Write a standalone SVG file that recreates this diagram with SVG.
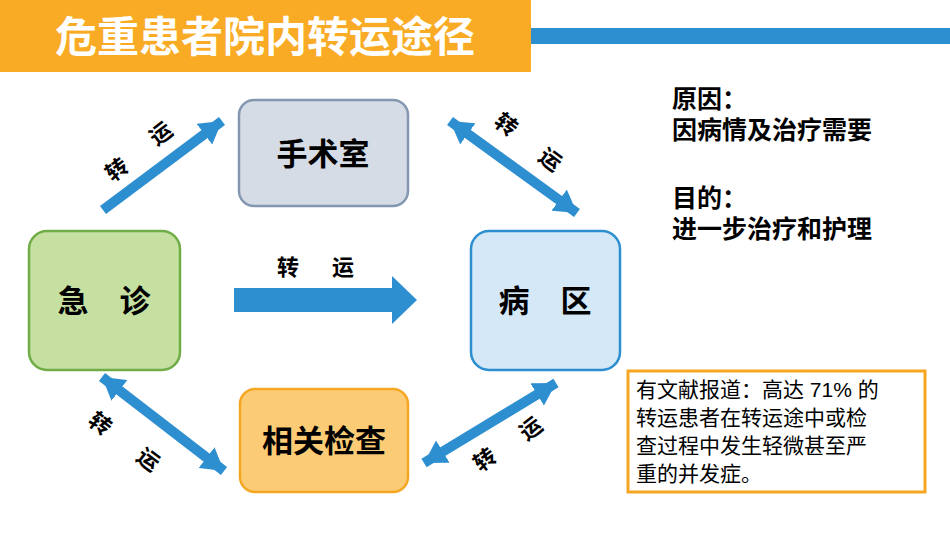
<svg xmlns="http://www.w3.org/2000/svg" width="950" height="535" viewBox="0 0 950 535">
<style>
text{font-family:"Liberation Sans","Noto Sans CJK SC",sans-serif;font-weight:bold;fill:#000}
.node{font-size:31px;text-anchor:middle;dominant-baseline:central}
.lab{font-size:22px;text-anchor:middle;dominant-baseline:central}
.side{font-size:25px}
.note{font-size:21px;font-weight:normal}
.arr{stroke:#2e8fd0;stroke-width:10;fill:none}
</style>
<defs>
<marker id="h" viewBox="0 0 2.2 2.6" refX="2.2" refY="1.3" markerWidth="2.2" markerHeight="2.6" orient="auto-start-reverse">
<path d="M0,0L2.2,1.3L0,2.6z" fill="#2e8fd0"/>
</marker>
</defs>
<rect width="950" height="535" fill="#fff"/>
<g id="title">
<rect x="0" y="0" width="531" height="72" fill="#f9ab25"/>
<rect x="531" y="28" width="419" height="16" fill="#2e8fd0"/>
<text x="265" y="37" font-size="42" style="fill:#fff" text-anchor="middle" dominant-baseline="central">危重患者院内转运途径</text>
</g>
<g id="connectors">
<line class="arr" x1="103" y1="210" x2="222" y2="121" marker-end="url(#h)"/>
<line class="arr" x1="450" y1="121" x2="577" y2="213" marker-start="url(#h)" marker-end="url(#h)"/>
<polygon points="234,288 392,288 392,276 417,300 392,324 392,312 234,312" fill="#2e8fd0"/>
<line class="arr" x1="102" y1="377" x2="224" y2="471" marker-start="url(#h)" marker-end="url(#h)"/>
<line class="arr" x1="424" y1="463" x2="556" y2="383" marker-start="url(#h)" marker-end="url(#h)"/>
<text class="lab" transform="translate(117,170) rotate(-37)">转</text>
<text class="lab" transform="translate(161,134) rotate(-37)">运</text>
<text class="lab" transform="translate(506,125) rotate(37)">转</text>
<text class="lab" transform="translate(550,160) rotate(37)">运</text>
<text class="lab" x="288" y="267">转</text>
<text class="lab" x="343" y="267">运</text>
<text class="lab" transform="translate(100,424) rotate(37)">转</text>
<text class="lab" transform="translate(148,460) rotate(37)">运</text>
<text class="lab" transform="translate(485,460) rotate(-37)">转</text>
<text class="lab" transform="translate(531,429) rotate(-37)">运</text>
</g>
<g id="surgery">
<rect x="239" y="100" width="169" height="106" rx="15" fill="#d6dce5" stroke="#8497b0" stroke-width="2.5"/>
<text class="node" x="323" y="154">手术室</text>
</g>
<g id="emergency">
<rect x="29" y="231" width="151" height="139" rx="18" fill="#c5e0a0" stroke="#70ad47" stroke-width="2.5"/>
<text class="node" x="104" y="301">急　诊</text>
</g>
<g id="ward">
<rect x="471" y="231" width="149" height="139" rx="18" fill="#d4e8f7" stroke="#2e8fd0" stroke-width="2.5"/>
<text class="node" x="545" y="301">病　区</text>
</g>
<g id="exam">
<rect x="240" y="389" width="168" height="103" rx="15" fill="#fccb75" stroke="#f5a623" stroke-width="2.5"/>
<text class="node" x="324" y="441">相关检查</text>
</g>
<g id="reason">
<text class="side" x="672" y="108">原因：</text>
<text class="side" x="672" y="139">因病情及治疗需要</text>
<text class="side" x="672" y="207">目的：</text>
<text class="side" x="672" y="238">进一步治疗和护理</text>
</g>
<g id="note">
<rect x="628" y="371" width="297" height="121" fill="#fff" stroke="#f5a623" stroke-width="3"/>
<text class="note" x="636" y="397">有文献报道：高达 71% 的</text>
<text class="note" x="636" y="425">转运患者在转运途中或检</text>
<text class="note" x="636" y="453">查过程中发生轻微甚至严</text>
<text class="note" x="636" y="481">重的并发症。</text>
</g>
</svg>
